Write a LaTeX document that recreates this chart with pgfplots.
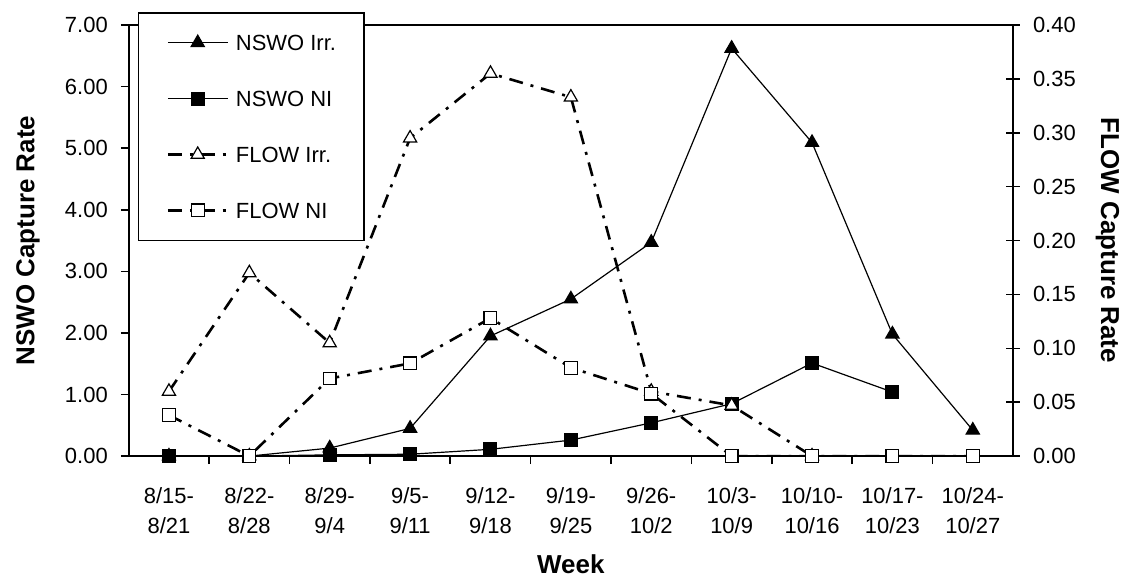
\documentclass[border=0pt]{standalone}
\usepackage{fontspec}
\setmainfont{Liberation Sans}
\usepackage{pgfplots}
\pgfplotsset{compat=1.18}

\pgfplotsset{
  capbase/.style={
    scale only axis, width=443pt, height=216pt,
    xmin=-0.5, xmax=10.5, ymin=0,
    axis line style={line width=0.9pt},
    tick style={line width=0.8pt, black},
    tick align=outside,
    major tick length=4pt,
    minor tick length=4pt,
    /pgf/number format/assume math mode=true,
    tick label style={font=\fontsize{11}{15.5}\selectfont},
    legend image code/.code={\draw[mark repeat=2,mark phase=2,##1] plot coordinates {(0pt,0pt) (15pt,0pt) (30pt,0pt)};},
  },
  nswoirr/.style={black, line width=0.6pt, mark=triangle*, mark size=3.8pt, mark options={solid, fill=black}},
  nswoni/.style={black, line width=0.6pt, mark=square*, mark size=3.2pt, mark options={solid, fill=black}},
  flowirr/.style={black, line width=1.3pt, dash pattern=on 7pt off 4pt on 1.5pt off 4pt, mark=triangle*, mark size=3.8pt, mark options={solid, fill=white, line width=0.6pt}},
  flowni/.style={black, line width=1.3pt, dash pattern=on 7pt off 4pt on 1.5pt off 4pt, mark=square*, mark size=3.2pt, mark options={solid, fill=white, line width=0.6pt}},
}

\begin{document}
\begin{tikzpicture}
% left axis: NSWO
\begin{axis}[capbase,
    ymax=7, ytick={0,1,2,3,4,5,6,7}, ytick pos=left,
    yticklabel style={/pgf/number format/fixed, /pgf/number format/fixed zerofill, /pgf/number format/precision=2, xshift=-3pt},
    xtick={0,1,2,3,4,5,6,7,8,9,10}, xtick pos=left,
    xticklabels={{8/15-\\8/21},{8/22-\\8/28},{8/29-\\9/4},{9/5-\\9/11},{9/12-\\9/18},{9/19-\\9/25},{9/26-\\10/2},{10/3-\\10/9},{10/10-\\10/16},{10/17-\\10/23},{10/24-\\10/27}},
    xticklabel style={align=center, yshift=-8pt},
    major x tick style={draw=none},
    minor xtick={0.5,1.5,2.5,3.5,4.5,5.5,6.5,7.5,8.5,9.5},
    xlabel={Week},
    every axis x label/.style={at={(axis description cs:0.5,-0.25)}, anchor=center, font=\bfseries\fontsize{13}{15}\selectfont},
    ylabel={NSWO Capture Rate},
    every axis y label/.style={at={(axis description cs:-0.114,0.5)}, rotate=90, anchor=center, font=\bfseries\fontsize{13}{15}\selectfont},
  ]
  \addplot[nswoirr] coordinates {
    (0,0) (1,0) (2,0.13) (3,0.45) (4,1.95) (5,2.55) (6,3.47) (7,6.62) (8,5.09) (9,1.98) (10,0.42)
  };
  \addplot[nswoni] coordinates {
    (0,0) (1,0) (2,0.02) (3,0.03) (4,0.11) (5,0.26) (6,0.54) (7,0.85) (8,1.51) (9,1.04)
  };
\end{axis}
% right axis: FLOW
\begin{axis}[capbase,
    ymax=0.40, ytick={0,0.05,0.1,0.15,0.2,0.25,0.3,0.35,0.4},
    axis x line=none, axis y line*=right, tick align=center, major tick length=7pt,
    yticklabel style={/pgf/number format/fixed, /pgf/number format/fixed zerofill, /pgf/number format/precision=2, xshift=3pt},
    ylabel={FLOW Capture Rate},
    every axis y label/.style={at={(axis description cs:1.107,0.5)}, rotate=-90, anchor=center, font=\bfseries\fontsize{13}{15}\selectfont},
    legend style={at={(0.0102,1.03)}, anchor=north west, draw=black, line width=0.8pt, fill=white,
      font=\fontsize{11}{13}\selectfont, inner xsep=14pt, inner ysep=11pt, row sep=20pt, column sep=3.5pt,
      nodes={inner sep=0pt, text height=8pt, text depth=0pt}},
    legend cell align=left,
  ]
  \addlegendimage{nswoirr}
  \addlegendentry{NSWO Irr.}
  \addlegendimage{nswoni}
  \addlegendentry{NSWO NI}
  \addplot[flowirr] coordinates {
    (0,0.06) (1,0.17) (2,0.105) (3,0.295) (4,0.355) (5,0.333) (6,0.06) (7,0.047) (8,0)
  };
  \addlegendentry{FLOW Irr.}
  \addplot[flowni] coordinates {
    (0,0.038) (1,0) (2,0.072) (3,0.086) (4,0.128) (5,0.082) (6,0.058) (7,0) (8,0) (9,0) (10,0)
  };
  \addlegendentry{FLOW NI}
\end{axis}
\path (-64.5pt,-60.5pt) rectangle (498.5pt,228.5pt);
\end{tikzpicture}
\end{document}
